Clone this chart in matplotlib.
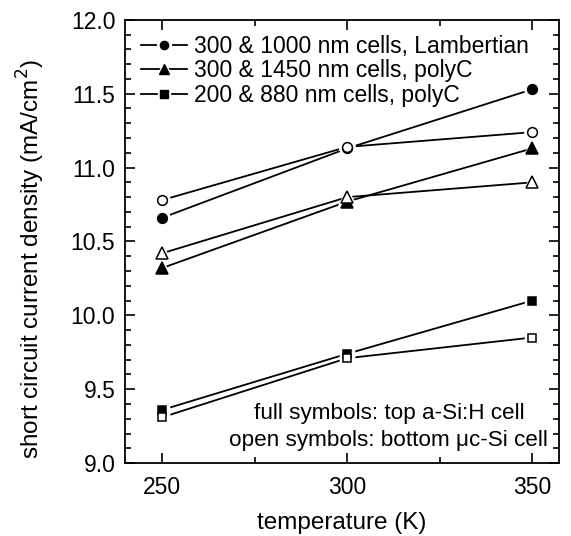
import matplotlib
matplotlib.use("Agg")
import matplotlib.pyplot as plt
from matplotlib.lines import Line2D
from matplotlib.ticker import MultipleLocator, FormatStrFormatter

plt.rcParams['font.family'] = ['Liberation Sans', 'DejaVu Sans']

temperature = [250, 300, 350]

# full symbols: top a-Si:H cell
lamb_top = [10.66, 11.13, 11.53]
poly1450_top = [10.32, 10.77, 11.13]
poly880_top = [9.36, 9.74, 10.10]

# open symbols: bottom uc-Si cell
lamb_bot = [10.78, 11.14, 11.24]
poly1450_bot = [10.42, 10.80, 10.90]
poly880_bot = [9.31, 9.71, 9.85]

labels = ["300 & 1000 nm cells, Lambertian",
          "300 & 1450 nm cells, polyC",
          "200 & 880 nm cells, polyC"]

fig = plt.figure(figsize=(5.71, 5.36), dpi=100)
ax = fig.add_axes([0.219, 0.136, 0.76, 0.827])

series = [(lamb_top, lamb_bot, 'o', 7),
          (poly1450_top, poly1450_bot, '^', 9),
          (poly880_top, poly880_bot, 's', 6)]

handles = []
for (top, bot, m, ms), lab in zip(series, labels):
    for ys, fc in ((top, 'black'), (bot, 'white')):
        ax.plot(temperature, ys, '-', color='black', lw=1.3, zorder=2)
        # white halo so lines stop short of the symbols
        ax.plot(temperature, ys, ls='none', marker=m, ms=ms + 4,
                mfc='white', mec='white', zorder=3)
        ax.plot(temperature, ys, ls='none', marker=m, ms=ms,
                mfc=fc, mec='black', mew=1.1, zorder=4)
    hl = Line2D([], [], color='black', lw=1.3)
    hh = Line2D([], [], ls='none', marker=m, ms=ms * 0.85 + 4,
                mfc='white', mec='white')
    hm = Line2D([], [], ls='none', marker=m, ms=ms * 0.85,
                mfc='black', mec='black')
    handles.append((hl, hh, hm))

ax.legend(handles=handles, labels=labels, loc='upper left',
          bbox_to_anchor=(0.0, 1.003), frameon=False, fontsize=16.5,
          handlelength=2.0, handletextpad=0.3, labelspacing=0.08,
          borderaxespad=0.3)

ax.text(0.608, 0.113, "full symbols: top a-Si:H cell", transform=ax.transAxes,
        ha='center', va='center', fontsize=16.2)
ax.text(0.608, 0.052, "open symbols: bottom \u03bcc-Si cell", transform=ax.transAxes,
        ha='center', va='center', fontsize=16.2)

ax.set_xlim(240, 357.2)
ax.set_ylim(9.0, 12.0)
ax.xaxis.set_major_locator(MultipleLocator(50))
ax.xaxis.set_minor_locator(MultipleLocator(25))
ax.yaxis.set_major_locator(MultipleLocator(0.5))
ax.yaxis.set_minor_locator(MultipleLocator(0.1))
ax.yaxis.set_major_formatter(FormatStrFormatter('%.1f'))
ax.tick_params(which='both', direction='in', top=True, right=True,
               labelsize=16.5, width=1.2)
ax.tick_params(which='major', length=7)
ax.tick_params(which='minor', length=4)
ax.tick_params(axis='x', pad=9)
ax.tick_params(axis='y', pad=7)
for s in ax.spines.values():
    s.set_linewidth(1.3)

ax.set_xlabel("temperature (K)", fontsize=17.5, labelpad=10)
ax.set_ylabel("short circuit current density (mA/cm$^2$)", fontsize=17.5)
ax.yaxis.set_label_coords(-0.18, 0.46)

fig.savefig("out.png", dpi=100)
